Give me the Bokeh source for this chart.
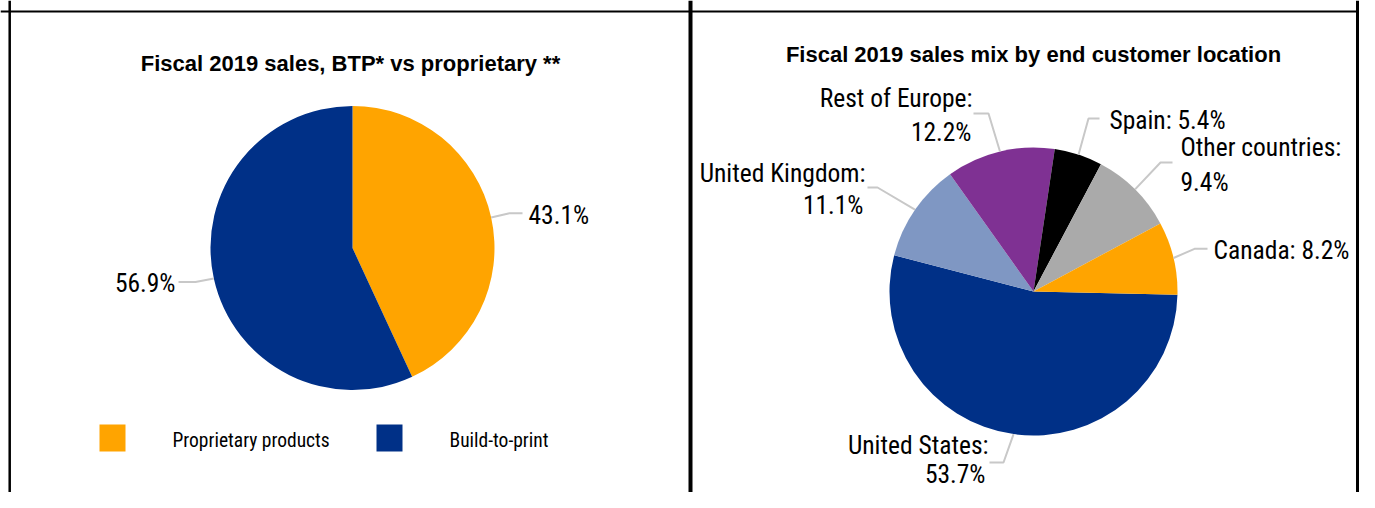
import math
from bokeh.plotting import figure
from bokeh.models import Range1d, Span
from bokeh.core.properties import value
from bokeh.embed import file_html
from bokeh.resources import INLINE

# ---------------- data ----------------
title1 = "Fiscal 2019 sales, BTP* vs proprietary **"
names1 = ["Proprietary products", "Build-to-print"]
values1 = [43.1, 56.9]
colors1 = ["#FFA400", "#003087"]

title2 = "Fiscal 2019 sales mix by end customer location"
names2 = ["United States", "United Kingdom", "Rest of Europe", "Spain", "Other countries", "Canada"]
values2 = [53.7, 11.1, 12.2, 5.4, 9.4, 8.2]
colors2 = ["#003087", "#7F97C3", "#7F3193", "#000000", "#AAAAAA", "#FFA400"]
two_line2 = [True, True, True, False, True, False]

# ---------------- layout ----------------
W, H = 1359, 492
def Y(py):  # picture y (from top) -> data y
    return H - py

LABEL_FONT = "Roboto Condensed, Liberation Sans Narrow, DejaVu Sans Condensed, Liberation Sans"
TITLE_FONT = "Liberation Sans, Arial, sans-serif"
LEADER = "#C8C8C8"
LSIZE = "25.5px"
TDY = 9  # baseline correction

p = figure(width=W, height=H, x_range=Range1d(0, W), y_range=Range1d(0, H),
           x_axis_type=None, y_axis_type=None, toolbar_location=None,
           output_backend="svg", min_border=0, background_fill_color="white")
p.grid.visible = False
p.outline_line_color = None

# frame
p.add_layout(Span(location=9.2, dimension="height", line_color="black", line_width=2.5))
p.add_layout(Span(location=690, dimension="height", line_color="black", line_width=4))
p.add_layout(Span(location=1357, dimension="height", line_color="black", line_width=3))
p.add_layout(Span(location=Y(11), dimension="width", line_color="black", line_width=2.2))


def pie(cx, cy, r, vals, cols, offset_cw):
    total = sum(vals)
    starts, ends, mids = [], [], []
    acc = offset_cw
    for v in vals:
        a = acc
        b = acc + v / total * 360.0
        starts.append(math.radians(90 - b))
        ends.append(math.radians(90 - a))
        mids.append((a + b) / 2)
        acc = b
    p.wedge(x=[cx] * len(vals), y=[Y(cy)] * len(vals), radius=r, radius_units="screen",
            start_angle=starts, end_angle=ends, fill_color=cols, line_color=None)
    edges = [(cx + r * math.sin(math.radians(m)), cy - r * math.cos(math.radians(m))) for m in mids]
    return edges


def leader(edge, elbow, end):
    p.line(x=[edge[0], elbow[0], end[0]], y=[Y(edge[1]), Y(elbow[1]), Y(end[1])],
           line_color=LEADER, line_width=2)


def txt(x, y, s, align, size, font=LABEL_FONT, style="normal"):
    p.text(x=[x], y=[Y(y - TDY)], text=[s], text_align=align, text_baseline="alphabetic",
           text_font=value(font), text_font_size=value(size), text_font_style=style,
           text_color="#000000")


# ---------- left chart ----------
txt(350, 71.5, title1, "center", "22px", TITLE_FONT, "bold")
edges1 = pie(352, 247.5, 142, values1, colors1, 0.0)
elbows1 = [(509, 212.7), (195, 281.5)]
ends1 = [(522, 212.7), (178, 281.5)]
lab1 = [(528, 223, "left"), (175, 291.5, "right")]
for i, v in enumerate(values1):
    leader(edges1[i], elbows1[i], ends1[i])
    lx, ly, la = lab1[i]
    txt(lx, ly, f"{v}%", la, LSIZE)

# legend
leg_x = [99, 376]
leg_tx = [172, 449]
p.rect(x=[x + 13 for x in leg_x], y=[Y(437.5)] * 2, width=26, height=27,
       width_units="screen", height_units="screen", fill_color=colors1, line_color=None)
for i, n in enumerate(names1):
    txt(leg_tx[i], 449, n, "left", "19.5px")

# ---------- right chart ----------
txt(1033, 63.3, title2, "center", "22px", TITLE_FONT, "bold")
edges2 = pie(1033, 291, 144, values2, colors2, 91.3)
elbows2 = [(1003, 462), (877, 187), (988, 113), (1088, 118), (1160, 162), (1194, 248.3)]
ends2 = [(989, 462), (867, 187), (973, 113), (1099, 118), (1172, 162), (1207, 248.3)]
lab2 = [(988, 453, 985, 482, "right"),
        (865, 181.7, 863, 213.3, "right"),
        (972, 106.7, 971, 140, "right"),
        (1109, 128.3, None, None, "left"),
        (1180, 155, 1180, 190, "left"),
        (1213, 258, None, None, "left")]
for i, (n, v) in enumerate(zip(names2, values2)):
    leader(edges2[i], elbows2[i], ends2[i])
    x1, y1, x2, y2, al = lab2[i]
    if two_line2[i]:
        txt(x1, y1, f"{n}:", al, LSIZE)
        txt(x2, y2, f"{v}%", al, LSIZE)
    else:
        txt(x1, y1, f"{n}: {v}%", al, LSIZE)

open("out.html", "w").write(file_html(p, INLINE))
